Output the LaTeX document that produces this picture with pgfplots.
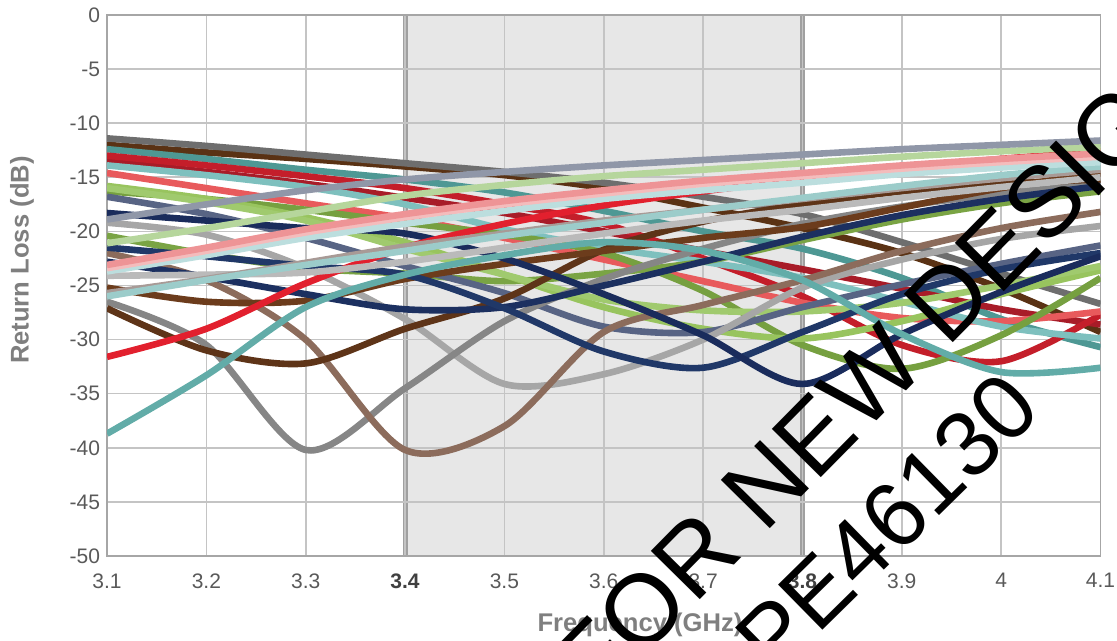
\documentclass[border=0pt]{standalone}
\usepackage{fontspec}
\setmainfont{Liberation Sans}
\usepackage{pgfplots}
\pgfplotsset{compat=1.18}
\definecolor{gridc}{HTML}{C4C4C4}
\definecolor{axc}{HTML}{A6A6A6}
\definecolor{bandc}{HTML}{E7E7E7}
\definecolor{bandl}{HTML}{A0A0A0}
\definecolor{tickc}{HTML}{595959}
\definecolor{labc}{HTML}{7F7F7F}
\definecolor{c1}{HTML}{6E6E6E}
\definecolor{c2}{HTML}{5A3214}
\definecolor{c3}{HTML}{4E9894}
\definecolor{c4}{HTML}{C41E2A}
\definecolor{c30}{HTML}{A81C28}
\definecolor{c5}{HTML}{7EC0BE}
\definecolor{c6}{HTML}{E85A5C}
\definecolor{c7}{HTML}{A0CA6E}
\definecolor{c8}{HTML}{76A040}
\definecolor{c9}{HTML}{586484}
\definecolor{c10}{HTML}{9097A8}
\definecolor{c11}{HTML}{B6D69C}
\definecolor{c12}{HTML}{EE9496}
\definecolor{c13}{HTML}{F4BCBC}
\definecolor{c14}{HTML}{BCDEDE}
\definecolor{c15}{HTML}{A89A96}
\definecolor{c16}{HTML}{BABABA}
\definecolor{c17}{HTML}{A6A6A6}
\definecolor{c18}{HTML}{868686}
\definecolor{c19}{HTML}{8C6C5C}
\definecolor{c20}{HTML}{5E3418}
\definecolor{c21}{HTML}{6C3C1C}
\definecolor{c22}{HTML}{E2202E}
\definecolor{c23}{HTML}{62ACA8}
\definecolor{c24}{HTML}{1C3060}
\definecolor{c25}{HTML}{1A2C5C}
\definecolor{c26}{HTML}{203868}
\definecolor{c27}{HTML}{7AA444}
\definecolor{c28}{HTML}{98C45E}
\definecolor{c29}{HTML}{9CCCCA}
\begin{document}
\begin{tikzpicture}
\begin{axis}[
  set layers,
  scale only axis,
  width=496.75pt, height=270.5pt,
  xmin=3.1, xmax=4.1, ymin=-50, ymax=0,
  xtick={3.1,3.2,3.3,3.4,3.5,3.6,3.7,3.8,3.9,4.0,4.1},
  xticklabels={3.1,3.2,3.3,\textbf{\color{black!75}3.4},3.5,3.6,3.7,\textbf{\color{black!75}3.8},3.9,4,4.1},
  ytick={-50,-45,-40,-35,-30,-25,-20,-15,-10,-5,0},
  yticklabels={-50,-45,-40,-35,-30,-25,-20,-15,-10,-5,0},
  grid=major,
  major grid style={draw=gridc, line width=0.8pt},
  major tick length=0pt,
  axis line style={draw=axc, line width=0.9pt},
  tick label style={font=\fontsize{10.5}{12}\selectfont, text=tickc},
  xticklabel style={yshift=-5.2pt},
  xlabel={Frequency (GHz)},
  ylabel={Return Loss (dB)},
  label style={font=\bfseries\fontsize{12.8}{14}\selectfont, text=labc},
  xlabel style={at={(axis description cs:0.5365,-0.1275)}, anchor=center},
  ylabel style={at={(axis description cs:-0.0856,0.547)}, anchor=center},
  every axis plot/.append style={line width=3.3pt, smooth, tension=0.5, no markers},
]
\begin{pgfonlayer}{axis background}
\fill[bandc] (axis cs:3.4,-50) rectangle (axis cs:3.8,0);
\draw[bandl, line width=2.5pt] (axis cs:3.4,-50) -- (axis cs:3.4,0);
\draw[bandl, line width=2.5pt] (axis cs:3.8,-50) -- (axis cs:3.8,0);
\end{pgfonlayer}
\addplot[c2] coordinates {(3.1,-12.0)(3.2,-12.7)(3.3,-13.3)(3.4,-14.0)(3.5,-14.8)(3.6,-16.0)(3.7,-17.8)(3.8,-19.7)(3.9,-22.0)(4.0,-25.3)(4.1,-29.3)};
\addplot[c1] coordinates {(3.1,-11.4)(3.2,-12.1)(3.3,-12.9)(3.4,-13.7)(3.5,-14.5)(3.6,-15.5)(3.7,-16.8)(3.8,-18.4)(3.9,-21.0)(4.0,-23.9)(4.1,-26.7)};
\addplot[c3] coordinates {(3.1,-12.4)(3.2,-13.3)(3.3,-14.3)(3.4,-15.2)(3.5,-16.4)(3.6,-18.1)(3.7,-20.0)(3.8,-21.6)(3.9,-24.3)(4.0,-28.1)(4.1,-30.7)};
\addplot[c30] coordinates {(3.1,-13.5)(3.2,-14.5)(3.3,-15.6)(3.4,-16.9)(3.5,-18.3)(3.6,-20.0)(3.7,-21.8)(3.8,-23.5)(3.9,-25.3)(4.0,-27.2)(4.1,-28.6)};
\addplot[c4] coordinates {(3.1,-13.0)(3.2,-13.9)(3.3,-14.9)(3.4,-16.0)(3.5,-17.5)(3.6,-19.3)(3.7,-22.5)(3.8,-26.0)(3.9,-30.5)(4.0,-32.0)(4.1,-27.7)};
\addplot[c6] coordinates {(3.1,-14.6)(3.2,-16.0)(3.3,-17.4)(3.4,-18.8)(3.5,-20.6)(3.6,-22.6)(3.7,-24.6)(3.8,-26.6)(3.9,-28.0)(4.0,-28.3)(4.1,-27.4)};
\addplot[c5] coordinates {(3.1,-13.9)(3.2,-14.8)(3.3,-15.9)(3.4,-17.5)(3.5,-19.8)(3.6,-21.5)(3.7,-22.8)(3.8,-24.3)(3.9,-26.5)(4.0,-28.8)(4.1,-29.9)};
\addplot[c8] coordinates {(3.1,-16.3)(3.2,-17.0)(3.3,-18.0)(3.4,-19.2)(3.5,-20.3)(3.6,-22.0)(3.7,-25.5)(3.8,-30.5)(3.9,-32.7)(4.0,-29.6)(4.1,-24.3)};
\addplot[c27] coordinates {(3.1,-20.4)(3.2,-22.1)(3.3,-23.4)(3.4,-23.9)(3.5,-24.6)(3.6,-23.9)(3.7,-22.8)(3.8,-20.8)(3.9,-18.9)(4.0,-17.4)(4.1,-16.3)};
\addplot[c28] coordinates {(3.1,-15.8)(3.2,-17.0)(3.3,-18.7)(3.4,-21.0)(3.5,-24.0)(3.6,-27.0)(3.7,-29.0)(3.8,-29.9)(3.9,-28.3)(4.0,-25.8)(4.1,-23.6)};
\addplot[c7] coordinates {(3.1,-16.0)(3.2,-17.3)(3.3,-19.0)(3.4,-21.6)(3.5,-24.0)(3.6,-26.3)(3.7,-27.3)(3.8,-27.4)(3.9,-26.6)(4.0,-25.0)(4.1,-23.2)};
\addplot[c9] coordinates {(3.1,-16.8)(3.2,-18.4)(3.3,-20.6)(3.4,-23.2)(3.5,-25.7)(3.6,-28.8)(3.7,-29.3)(3.8,-27.0)(3.9,-24.9)(4.0,-23.0)(4.1,-21.3)};
\addplot[c17] coordinates {(3.1,-19.2)(3.2,-20.3)(3.3,-23.4)(3.4,-28.1)(3.5,-34.1)(3.6,-33.2)(3.7,-30.0)(3.8,-25.2)(3.9,-22.6)(4.0,-20.7)(4.1,-19.5)};
\addplot[c18] coordinates {(3.1,-26.5)(3.2,-30.5)(3.3,-40.2)(3.4,-34.5)(3.5,-28.3)(3.6,-24.4)(3.7,-21.6)(3.8,-19.3)(3.9,-17.7)(4.0,-16.5)(4.1,-15.6)};
\addplot[c19] coordinates {(3.1,-22.0)(3.2,-24.5)(3.3,-30.0)(3.4,-40.2)(3.5,-38.0)(3.6,-29.3)(3.7,-26.8)(3.8,-24.5)(3.9,-21.8)(4.0,-19.7)(4.1,-18.2)};
\addplot[c20] coordinates {(3.1,-27.1)(3.2,-31.0)(3.3,-32.2)(3.4,-29.0)(3.5,-26.2)(3.6,-21.7)(3.7,-19.1)(3.8,-17.5)(3.9,-16.3)(4.0,-15.6)(4.1,-15.2)};
\addplot[c21] coordinates {(3.1,-25.2)(3.2,-26.5)(3.3,-26.4)(3.4,-24.4)(3.5,-23.0)(3.6,-21.8)(3.7,-20.6)(3.8,-19.6)(3.9,-17.8)(4.0,-16.0)(4.1,-14.6)};
\addplot[c24] coordinates {(3.1,-22.8)(3.2,-24.2)(3.3,-25.8)(3.4,-27.2)(3.5,-27.0)(3.6,-25.0)(3.7,-22.8)(3.8,-20.5)(3.9,-18.5)(4.0,-17.0)(4.1,-15.8)};
\addplot[c26] coordinates {(3.1,-21.5)(3.2,-22.3)(3.3,-23.2)(3.4,-24.0)(3.5,-27.1)(3.6,-31.1)(3.7,-32.6)(3.8,-29.3)(3.9,-25.8)(4.0,-23.5)(4.1,-22.0)};
\addplot[c25] coordinates {(3.1,-18.3)(3.2,-19.0)(3.3,-19.7)(3.4,-20.2)(3.5,-22.5)(3.6,-25.8)(3.7,-29.6)(3.8,-34.1)(3.9,-29.5)(4.0,-25.6)(4.1,-22.3)};
\addplot[c23] coordinates {(3.1,-38.7)(3.2,-33.3)(3.3,-27.0)(3.4,-24.0)(3.5,-22.2)(3.6,-21.0)(3.7,-21.8)(3.8,-24.5)(3.9,-29.5)(4.0,-33.0)(4.1,-32.6)};
\addplot[c22] coordinates {(3.1,-31.6)(3.2,-29.0)(3.3,-24.8)(3.4,-21.5)(3.5,-19.3)(3.6,-17.6)(3.7,-16.3)(3.8,-15.2)(3.9,-14.2)(4.0,-13.3)(4.1,-12.6)};
\addplot[c16] coordinates {(3.1,-24.1)(3.2,-24.0)(3.3,-23.8)(3.4,-22.8)(3.5,-21.5)(3.6,-20.2)(3.7,-19.0)(3.8,-18.0)(3.9,-16.9)(4.0,-15.9)(4.1,-15.0)};
\addplot[c15] coordinates {(3.1,-25.7)(3.2,-24.4)(3.3,-22.9)(3.4,-21.4)(3.5,-20.2)(3.6,-19.0)(3.7,-18.0)(3.8,-17.0)(3.9,-16.0)(4.0,-15.1)(4.1,-14.3)};
\addplot[c29] coordinates {(3.1,-26.0)(3.2,-24.5)(3.3,-23.1)(3.4,-21.8)(3.5,-20.4)(3.6,-19.2)(3.7,-18.0)(3.8,-16.9)(3.9,-15.8)(4.0,-14.8)(4.1,-14.0)};
\addplot[c14] coordinates {(3.1,-23.7)(3.2,-22.2)(3.3,-20.6)(3.4,-19.3)(3.5,-18.1)(3.6,-17.0)(3.7,-16.2)(3.8,-15.5)(3.9,-14.7)(4.0,-14.1)(4.1,-13.6)};
\addplot[c13] coordinates {(3.1,-23.4)(3.2,-21.8)(3.3,-20.1)(3.4,-18.7)(3.5,-17.5)(3.6,-16.5)(3.7,-15.6)(3.8,-14.9)(3.9,-14.2)(4.0,-13.6)(4.1,-13.1)};
\addplot[c12] coordinates {(3.1,-23.1)(3.2,-21.5)(3.3,-19.8)(3.4,-18.4)(3.5,-17.2)(3.6,-16.2)(3.7,-15.3)(3.8,-14.6)(3.9,-13.9)(4.0,-13.3)(4.1,-12.8)};
\addplot[c11] coordinates {(3.1,-21.1)(3.2,-19.7)(3.3,-18.2)(3.4,-16.7)(3.5,-15.7)(3.6,-14.9)(3.7,-14.3)(3.8,-13.7)(3.9,-13.1)(4.0,-12.6)(4.1,-12.2)};
\addplot[c10] coordinates {(3.1,-18.9)(3.2,-17.5)(3.3,-16.2)(3.4,-15.2)(3.5,-14.5)(3.6,-13.9)(3.7,-13.4)(3.8,-12.9)(3.9,-12.4)(4.0,-12.0)(4.1,-11.6)};
\coordinate (wm1) at (axis cs:3.8197,-38.1);
\coordinate (wm2) at (axis cs:3.8851,-46.95);
\end{axis}
\node[rotate=45.4, inner sep=0pt, text=black,
  font=\fontsize{50}{50}\selectfont] at (wm1) {NOT FOR NEW DESIGNS};
\node[rotate=44.5, inner sep=0pt, text=black,
  font=\fontsize{46}{46}\selectfont] at (wm2) {PE46130};
\pgfresetboundingbox
\useasboundingbox (-53.5pt,-42.5pt) rectangle (505pt,278pt);
\end{tikzpicture}
\end{document}
